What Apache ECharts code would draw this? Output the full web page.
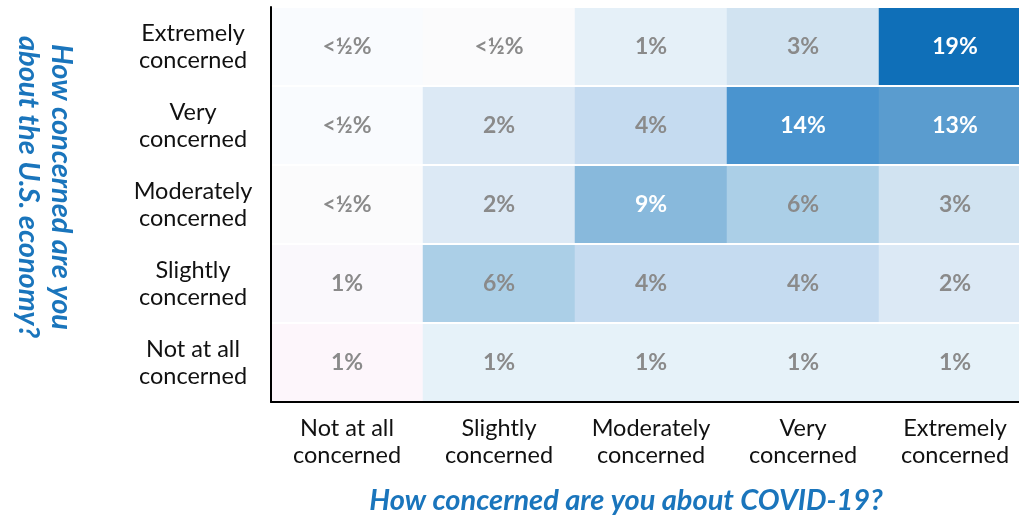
<!DOCTYPE html>
<html>
<head>
<meta charset="utf-8">
<style>
html,body{margin:0;padding:0;background:#fff;}
#chart{width:1019px;height:520px;}
</style>
<script src="https://cdn.jsdelivr.net/npm/echarts@6/dist/echarts.min.js"></script>
</head>
<body>
<div id="chart"></div>
<script>
// Columns: concern about COVID-19
var covidCategories = ['Not at all\nconcerned', 'Slightly\nconcerned', 'Moderately\nconcerned', 'Very\nconcerned', 'Extremely\nconcerned'];
// Rows: concern about U.S. economy (bottom to top)
var economyCategories = ['Not at all\nconcerned', 'Slightly\nconcerned', 'Moderately\nconcerned', 'Very\nconcerned', 'Extremely\nconcerned'];

// Values per economy row (bottom→top), per covid column (left→right); 0.4 stands for "<½%"
var econNotAtAll   = [1, 1, 1, 1, 1];
var econSlightly   = [1, 6, 4, 4, 2];
var econModerately = [0.4, 2, 9, 6, 3];
var econVery       = [0.4, 2, 4, 14, 13];
var econExtremely  = [0.4, 0.4, 1, 3, 19];
var rowValues = [econNotAtAll, econSlightly, econModerately, econVery, econExtremely];

// Cell fill colours (same layout as rowValues)
var cellColors = [
  ['#fdf6fb', '#e6f2f9', '#e6f2f9', '#e6f2f9', '#e6f2f9'],
  ['#faf8fc', '#abcfe7', '#c5dbf0', '#c5dbf0', '#dce9f5'],
  ['#fbfbfc', '#dce9f5', '#88b9dc', '#abcfe7', '#d1e3f1'],
  ['#f9fbfe', '#dce9f5', '#c5dbf0', '#4a94cf', '#5a9ccf'],
  ['#f9fbfe', '#fbfbfc', '#e5f0f8', '#d1e3f1', '#0f6fb8']
];

function fmt(v) { return v < 0.5 ? '<\u00BD%' : v + '%'; }

var data = [];
for (var r = 0; r < rowValues.length; r++) {
  for (var c = 0; c < rowValues[r].length; c++) {
    var v = rowValues[r][c];
    data.push({
      value: [c, r, v],
      itemStyle: { color: cellColors[r][c] },
      label: { color: v >= 9 ? '#ffffff' : '#8a8a8a' }
    });
  }
}

var FONT = 'Lato, "Noto Sans", sans-serif';
var chart = echarts.init(document.getElementById('chart'));
chart.setOption({
  animation: false,
  backgroundColor: '#ffffff',
  grid: { left: 271, top: 7, width: 760, height: 395, containLabel: false, outerBoundsMode: 'none' },
  xAxis: {
    type: 'category',
    data: covidCategories,
    z: 6,
    axisLine: { show: true, lineStyle: { color: '#000', width: 2 } },
    axisTick: { show: false },
    splitLine: { show: false },
    axisLabel: { color: '#111', fontFamily: FONT, fontSize: 23.5, lineHeight: 27, margin: 13, interval: 0 }
  },
  yAxis: {
    type: 'category',
    data: economyCategories,
    z: 5,
    axisLine: { show: true, lineStyle: { color: '#000', width: 2 } },
    axisTick: { show: false },
    splitLine: { show: true, lineStyle: { color: '#ffffff', width: 2 } },
    axisLabel: { color: '#111', fontFamily: FONT, fontSize: 23.5, lineHeight: 27, margin: 78, align: 'center', interval: 0 }
  },
  graphic: [
    {
      type: 'text', x: 626, y: 501, z: 10,
      style: { text: 'How concerned are you about COVID-19?', fill: '#1a75bc',
        font: 'italic bold 29px ' + FONT, align: 'center', verticalAlign: 'middle' }
    },
    {
      type: 'text', x: 45, y: 187, rotation: -Math.PI / 2, z: 10,
      style: { text: 'How concerned are you\nabout the U.S. economy?', fill: '#1a75bc',
        font: 'italic bold 29px ' + FONT, align: 'center', verticalAlign: 'middle', lineHeight: 33 }
    }
  ],
  series: [{
    type: 'heatmap',
    data: data,
    label: {
      show: true,
      fontFamily: FONT, fontSize: 23, fontWeight: 'bold',
      formatter: function (p) { return fmt(p.value[2]); }
    },
    itemStyle: { borderWidth: 0 },
    emphasis: { disabled: true }
  }]
});
</script>
</body>
</html>
